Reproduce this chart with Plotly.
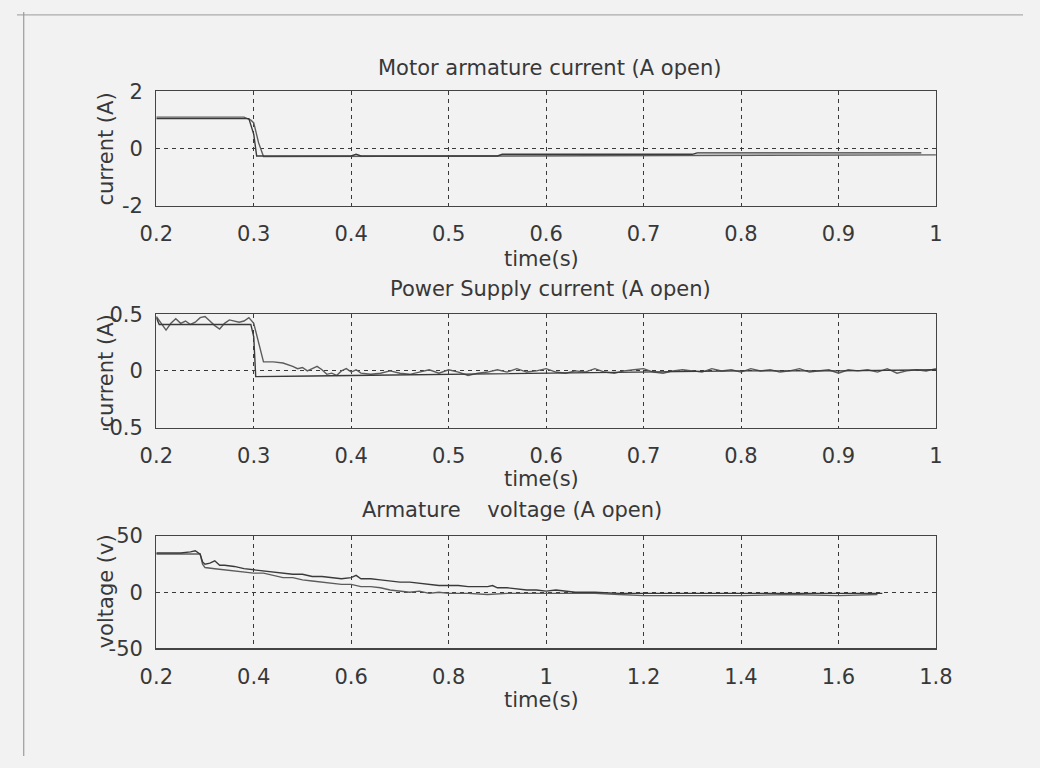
import plotly.graph_objects as go

# ---------------- data ----------------
# Panel 1: Motor armature current (A open)
p1_t_a = [0.2, 0.295, 0.300, 0.303, 0.400, 0.405, 0.410, 0.550, 0.555, 0.750, 0.755, 0.985]
p1_i_a = [1.05, 1.05, 0.50, -0.26, -0.26, -0.20, -0.26, -0.26, -0.20, -0.20, -0.15, -0.15]
p1_t_b = [0.2, 0.290, 0.297, 0.300, 0.305, 0.310, 1.0]
p1_i_b = [1.10, 1.10, 1.00, 0.90, 0.20, -0.28, -0.22]

# Panel 2: Power Supply current (A open)
p2_t_a = [0.2, 0.203, 0.297, 0.300, 0.302, 0.34, 0.36, 0.40, 0.45, 0.50, 0.55, 0.60, 0.70, 0.80, 0.90, 1.0]
p2_i_a = [0.47, 0.41, 0.41, 0.30, -0.05, -0.05, -0.045, -0.04, -0.035, -0.03, -0.02, -0.015, -0.005, 0.0, 0.0, 0.01]
p2_t_b = [0.200, 0.205, 0.210, 0.215, 0.220, 0.225, 0.230, 0.235, 0.240, 0.245,
          0.250, 0.255, 0.260, 0.265, 0.270, 0.275, 0.280, 0.285, 0.290, 0.295,
          0.300, 0.305, 0.310, 0.320, 0.330, 0.340, 0.345, 0.350, 0.355, 0.360,
          0.365, 0.370, 0.375, 0.380, 0.385, 0.390, 0.395, 0.400, 0.405, 0.410,
          0.420, 0.430, 0.440, 0.450, 0.460, 0.470, 0.480, 0.490, 0.500, 0.510,
          0.520, 0.530, 0.540, 0.550, 0.560, 0.570, 0.580, 0.590, 0.600, 0.610,
          0.620, 0.630, 0.640, 0.650, 0.660, 0.670, 0.680, 0.690, 0.700, 0.710,
          0.720, 0.730, 0.740, 0.750, 0.760, 0.770, 0.780, 0.790, 0.800, 0.810,
          0.820, 0.830, 0.840, 0.850, 0.860, 0.870, 0.880, 0.890, 0.900, 0.910,
          0.920, 0.930, 0.940, 0.950, 0.960, 0.970, 0.980, 0.990, 1.000]
p2_i_b = [0.48, 0.42, 0.36, 0.42, 0.46, 0.42, 0.44, 0.41, 0.43, 0.47,
          0.48, 0.44, 0.40, 0.37, 0.42, 0.45, 0.44, 0.43, 0.44, 0.47,
          0.42, 0.25, 0.08, 0.08, 0.07, 0.04, 0.02, 0.03, 0.00, 0.02,
          0.04, 0.01, -0.03, -0.02, -0.04, 0.00, 0.02, -0.01, 0.01, -0.02,
          -0.03, -0.02, 0.00, -0.02, -0.03, -0.01, 0.01, -0.02, 0.01, -0.01,
          -0.04, -0.02, -0.01, 0.01, -0.01, 0.02, -0.01, 0.00, 0.02, -0.01,
          -0.02, 0.00, -0.01, 0.02, -0.01, -0.02, 0.00, 0.01, 0.02, -0.01,
          -0.02, 0.00, 0.01, 0.00, -0.01, 0.02, 0.00, 0.01, -0.01, 0.02,
          0.00, 0.01, -0.01, 0.00, 0.02, -0.01, 0.00, 0.01, -0.02, 0.01,
          0.00, 0.01, -0.01, 0.02, -0.02, 0.00, 0.01, 0.00, 0.02]

# Panel 3: Armature voltage (A open)
p3_t_a = [0.20, 0.22, 0.25, 0.27, 0.28, 0.29, 0.295, 0.30, 0.31, 0.32, 0.33, 0.34, 0.36, 0.38, 0.40,
          0.42, 0.44, 0.46, 0.48, 0.50, 0.52, 0.54, 0.56, 0.58, 0.60, 0.61, 0.62, 0.64, 0.66, 0.68,
          0.70, 0.72, 0.74, 0.76, 0.78, 0.80, 0.82, 0.84, 0.86, 0.88, 0.89, 0.90, 0.92, 0.94, 0.96,
          0.98, 1.00, 1.02, 1.04, 1.06, 1.10, 1.15, 1.20, 1.30, 1.40, 1.50, 1.60, 1.69]
p3_v_a = [35, 35, 35, 36, 37, 34, 27, 25, 26, 28, 24, 24, 23, 21, 20,
          19, 18, 17, 16, 16, 14, 14, 13, 12, 13, 15, 12, 12, 11, 10,
          9, 9, 8, 7, 6, 6, 6, 5, 5, 5, 6, 4, 4, 3, 2,
          2, 1, 2, 1, 0, 0, -1, -1, -1, -1, -1, -1, -1]
p3_t_b = [0.20, 0.25, 0.29, 0.295, 0.30, 0.32, 0.34, 0.36, 0.38, 0.40, 0.42, 0.44, 0.46, 0.48, 0.50,
          0.52, 0.54, 0.56, 0.58, 0.60, 0.62, 0.64, 0.66, 0.68, 0.70, 0.72, 0.74, 0.76, 0.78, 0.80,
          0.84, 0.88, 0.92, 0.96, 1.00, 1.05, 1.10, 1.15, 1.20, 1.30, 1.40, 1.50, 1.60, 1.68]
p3_v_b = [34, 34, 34, 25, 22, 21, 20, 19, 18, 17, 17, 15, 13, 13, 11,
          10, 9, 8, 7, 7, 5, 5, 4, 2, 1, 0, 1, -1, 0, -1,
          -1, -2, -1, -1, -1, -1, -1, -2, -3, -3, -3, -2, -3, -2]

# tick labels
x12_ticks = [0.2, 0.3, 0.4, 0.5, 0.6, 0.7, 0.8, 0.9, 1.0]
x12_text = ["0.2", "0.3", "0.4", "0.5", "0.6", "0.7", "0.8", "0.9", "1"]
x3_ticks = [0.2, 0.4, 0.6, 0.8, 1.0, 1.2, 1.4, 1.6, 1.8]
x3_text = ["0.2", "0.4", "0.6", "0.8", "1", "1.2", "1.4", "1.6", "1.8"]
y1_ticks = [-2, 0, 2]
y2_ticks = [-0.5, 0, 0.5]
y2_text = ["-0.5", "0", "0.5"]
y3_ticks = [-50, 0, 50]

titles = ["Motor armature current (A open)", "Power Supply current (A open)", "Armature    voltage (A open)"]
ylabels = ["current (A)", "current (A)", "voltage (v)"]
xlabel = "time(s)"

# ---------------- figure ----------------
W, H = 1040, 768
BG = "#f2f2f2"
INK = "#383838"
LINE_A = "#3a3a3a"
LINE_B = "#5c5c5c"
FONT = "DejaVu Sans"

def py(px):
    return 1 - px / H

def pxx(px):
    return px / W

fig = go.Figure()

panels = [
    (p1_t_a, p1_i_a, p1_t_b, p1_i_b, ""),
    (p2_t_a, p2_i_a, p2_t_b, p2_i_b, "2"),
    (p3_t_a, p3_v_a, p3_t_b, p3_v_b, "3"),
]
for ta, va, tb, vb, s in panels:
    fig.add_trace(go.Scatter(x=tb, y=vb, mode="lines", line=dict(color=LINE_B, width=1.4),
                             xaxis="x" + s, yaxis="y" + s, showlegend=False, hoverinfo="skip"))
    fig.add_trace(go.Scatter(x=ta, y=va, mode="lines", line=dict(color=LINE_A, width=1.4),
                             xaxis="x" + s, yaxis="y" + s, showlegend=False, hoverinfo="skip"))

x_dom = [pxx(144), pxx(950)]
y_doms = [[py(200), py(82)], [py(429), py(312)], [py(657), py(541)]]

common_axis = dict(showline=True, mirror=True, linecolor="#444", linewidth=1.2,
                   showgrid=True, gridcolor="#3a3a3a", gridwidth=1, griddash="4px,4px",
                   zeroline=False, ticks="", tickfont=dict(family=FONT, size=21, color=INK),
                   fixedrange=True)

layout = dict(width=W, height=H, paper_bgcolor=BG, plot_bgcolor=BG,
              margin=dict(l=0, r=0, t=0, b=0), showlegend=False, hovermode=False)

xcfg = [
    (x12_ticks, x12_text, [0.2, 1.0]),
    (x12_ticks, x12_text, [0.2, 1.0]),
    (x3_ticks, x3_text, [0.2, 1.8]),
]
ycfg = [
    (y1_ticks, [str(v) for v in y1_ticks], [-2, 2]),
    (y2_ticks, y2_text, [-0.5, 0.5]),
    (y3_ticks, [str(v) for v in y3_ticks], [-50, 50]),
]
for k in range(3):
    s = "" if k == 0 else str(k + 1)
    xt, xtt, xr = xcfg[k]
    yt, ytt, yr = ycfg[k]
    layout["xaxis" + s] = dict(common_axis, domain=x_dom, range=xr, tickvals=xt, ticktext=xtt,
                               anchor="y" + s, ticklabelstandoff=9)
    layout["yaxis" + s] = dict(common_axis, domain=y_doms[k], range=yr, tickvals=yt, ticktext=ytt,
                               anchor="x" + s, ticklabelstandoff=8)

fig.update_layout(**layout)

ann = []
title_pos = [(551, 58), (552, 286), (512, 514)]
xlab_pos = [255, 482, 710]
ylab_centers = [141, 370, 598]
for k in range(3):
    tx, ty = title_pos[k]
    ann.append(dict(text=titles[k], x=pxx(tx), y=py(ty), xref="paper", yref="paper",
                    showarrow=False, xanchor="center", yanchor="middle",
                    font=dict(family=FONT, size=21, color=INK)))
    ann.append(dict(text=xlabel, x=pxx(542), y=py(xlab_pos[k]), xref="paper", yref="paper",
                    showarrow=False, xanchor="center", yanchor="middle",
                    font=dict(family=FONT, size=21, color=INK)))
    ann.append(dict(text=ylabels[k], x=pxx(92), y=py(ylab_centers[k]), xref="paper", yref="paper",
                    showarrow=False, xanchor="center", yanchor="middle", textangle=-90,
                    font=dict(family=FONT, size=21, color=INK)))
fig.update_layout(annotations=ann)

# scanned page border lines
fig.add_shape(type="line", xref="paper", yref="paper", x0=pxx(7), x1=pxx(7), y0=0, y1=1,
              line=dict(color="#8a8a8a", width=1))
fig.add_shape(type="line", xref="paper", yref="paper", x0=0, x1=1, y0=py(3), y1=py(3),
              line=dict(color="#9a9a9a", width=1))

fig.write_html("out.html",
               config={"displayModeBar": False, "staticPlot": True},
               post_script="document.body.style.margin='0';document.body.style.overflow='hidden';")
